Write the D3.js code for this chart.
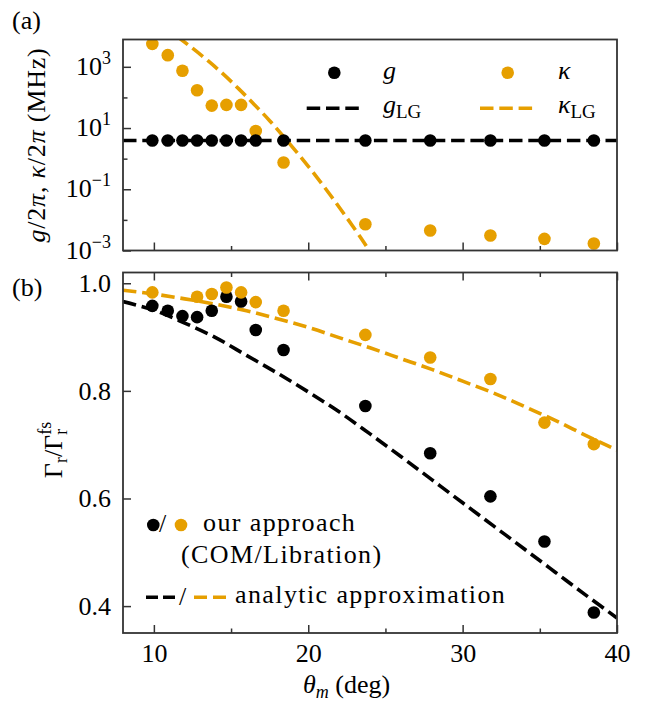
<!DOCTYPE html>
<html>
<head>
<meta charset="utf-8">
<script src="https://cdnjs.cloudflare.com/ajax/libs/d3/7.8.5/d3.min.js"></script>
<style>
  html, body { margin: 0; padding: 0; background: #fff; }
  svg { display: block; }
  text { font-family: "Liberation Serif", "Times New Roman", serif; fill: #000; }
  .wide { letter-spacing: 1.4px; }
</style>
</head>
<body>
<svg id="chart" width="663" height="705"></svg>
<script>
// computed points, angle in deg
const theta = [9.9, 10.9, 11.85, 12.8, 13.75, 14.7, 15.65, 16.6, 18.4, 23.7, 27.9, 31.8, 35.3, 38.5];
// (a) coupling and loss rate, MHz
const gMHz     = [3.9, 3.9, 3.9, 3.9, 3.9, 3.9, 3.9, 3.9, 3.9, 3.9, 3.9, 3.9, 3.9, 3.9];
const kappaMHz = [5600, 2400, 740, 172, 54, 57, 57, 8.0, 0.75, 0.0072, 0.0045, 0.0031, 0.0024, 0.0017];
// LG-beam estimates
const gLGTheta = [8, 40];
const gLGMHz   = [3.9, 3.9];
const kappaLGTheta = [11.5, 12.5, 13.5, 14.5, 15.5, 16.5, 17.5, 18.5, 19.5, 20.5, 21.5, 22.5, 23.5, 24.0];
const kappaLGMHz   = [9800, 4070, 1580, 575, 190, 59, 17.4, 4.6, 1.15, 0.27, 0.058, 0.0117, 0.0022, 0.00091];
// (b) Gamma_r / Gamma_r^fs
const gammaCOM = [0.958, 0.949, 0.939, 0.937, 0.949, 0.975, 0.966, 0.913, 0.876, 0.772, 0.684, 0.604, 0.520, 0.388];
const gammaLib = [0.983, null, null, 0.975, 0.980, 0.992, 0.983, 0.965, 0.949, 0.904, 0.862, 0.822, 0.741, 0.701];
const approxTheta = [8, 10, 12, 14, 16, 18, 20, 22, 24, 26, 28, 30, 32, 34, 36, 38, 40];
const approxCOM   = [0.966, 0.950, 0.926, 0.899, 0.866, 0.833, 0.798, 0.761, 0.720, 0.678, 0.635, 0.592, 0.549, 0.506, 0.463, 0.420, 0.378];
const approxLib   = [0.987, 0.980, 0.971, 0.961, 0.949, 0.934, 0.918, 0.899, 0.880, 0.860, 0.840, 0.818, 0.796, 0.771, 0.745, 0.717, 0.690];
// axes
const xDomain = [8, 40];
const xMajor = [10, 20, 30, 40];
const xMinor = [15, 25, 35];
const yADomain = [1e-3, 7800];
const yAMajorExp = [3, 1, -1, -3];
const yAMinor = [1e2, 1e0, 1e-2];
const yBDomain = [0.35, 1.02];
const yBMajor = [0.4, 0.6, 0.8, 1.0];

const BLACK = "#000", ORANGE = "#E69F00", AXIS = "#333";
const FS = 26;

const svg = d3.select("#chart");
const left = 123, right = 617;
const aTop = 39.5, aBot = 250.5, bTop = 272.5, bBot = 633;

const x = d3.scaleLinear().domain(xDomain).range([left, right]);
const yA = d3.scaleLog().domain(yADomain).range([aBot, aTop]);
const yB = d3.scaleLinear().domain(yBDomain).range([bBot, bTop]);

function clip(id, top, bot) {
  svg.append("clipPath").attr("id", id).append("rect")
    .attr("x", left).attr("y", top).attr("width", right - left).attr("height", bot - top);
}
clip("clipA", aTop, aBot);
clip("clipB", bTop, bBot);

// rich text helper: parts = [{t, it, sz, dy, dx}]
function rich(g, parts) {
  parts.forEach(p => {
    const s = g.append("tspan").text(p.t);
    if (p.it) s.attr("font-style", "italic");
    if (p.sz) s.attr("font-size", p.sz);
    if (p.dy) s.attr("dy", p.dy);
    if (p.dx) s.attr("dx", p.dx);
  });
  return g;
}

function ticks(axis, yPos, size, xPos) {
  const g = svg.append("g").attr("transform", `translate(${xPos || 0},${yPos || 0})`).call(axis);
  g.select(".domain").remove();
  g.selectAll(".tick line").attr("stroke", AXIS).attr("stroke-width", 1.5);
  g.selectAll("text").attr("font-size", FS).attr("fill", "#000");
  return g;
}

function line(gen, xs, ys, color, clipId) {
  svg.append("path")
    .datum(d3.zip(xs, ys))
    .attr("clip-path", `url(#${clipId})`)
    .attr("fill", "none")
    .attr("stroke", color)
    .attr("stroke-width", 3.6)
    .attr("stroke-dasharray", "13.5,5.8")
    .attr("d", gen);
}

function dots(xs, ys, ysc, color, clipId) {
  svg.append("g").attr("clip-path", `url(#${clipId})`)
    .selectAll("circle")
    .data(d3.zip(xs, ys).filter(d => d[1] != null))
    .join("circle")
    .attr("cx", d => x(d[0]))
    .attr("cy", d => ysc(d[1]))
    .attr("r", 6.3)
    .attr("fill", color);
}

// ---------- panel (a)
const lineA = d3.line().curve(d3.curveCatmullRom).x(d => x(d[0])).y(d => yA(d[1]));
line(lineA, gLGTheta, gLGMHz, BLACK, "clipA");
line(lineA, kappaLGTheta, kappaLGMHz, ORANGE, "clipA");
dots(theta, kappaMHz, yA, ORANGE, "clipA");
dots(theta, gMHz, yA, BLACK, "clipA");

ticks(d3.axisBottom(x).tickValues(xMajor).tickSize(-8).tickFormat(""), aBot);
ticks(d3.axisBottom(x).tickValues(xMinor).tickSize(-4.5).tickFormat(""), aBot);
ticks(d3.axisLeft(yA).tickValues(yAMajorExp.map(e => Math.pow(10, e))).tickSize(-8).tickFormat(""), 0, 0, left);
ticks(d3.axisLeft(yA).tickValues(yAMinor).tickSize(-4.5).tickFormat(""), 0, 0, left);

yAMajorExp.forEach(e => {
  const t = svg.append("text").attr("x", 111).attr("y", yA(Math.pow(10, e)) + 8)
    .attr("text-anchor", "end").attr("font-size", FS);
  rich(t, [{ t: "10" }, { t: (e < 0 ? "\u2212" : "") + Math.abs(e), sz: 18, dy: -11 }]);
});

svg.append("rect").attr("x", left).attr("y", aTop).attr("width", right - left).attr("height", aBot - aTop)
  .attr("fill", "none").attr("stroke", AXIS).attr("stroke-width", 1.8);

// legend (a)
function legDot(cx, cy, color) {
  svg.append("circle").attr("cx", cx).attr("cy", cy).attr("r", 6.3).attr("fill", color);
}
function legDash(x0, x1, cy, color, dash) {
  svg.append("line").attr("x1", x0).attr("x2", x1).attr("y1", cy).attr("y2", cy)
    .attr("stroke", color).attr("stroke-width", 3.6).attr("stroke-dasharray", dash || "13.5,5.8");
}
legDot(334.3, 72.7, BLACK);
legDot(507.7, 72.7, ORANGE);
legDash(306.7, 361.7, 108.3, BLACK);
legDash(480, 535, 108.3, ORANGE);
rich(svg.append("text").attr("x", 383).attr("y", 79).attr("font-size", FS), [{ t: "g", it: true }]);
rich(svg.append("text").attr("x", 558).attr("y", 79).attr("font-size", FS), [{ t: "\u03ba", it: true }]);
rich(svg.append("text").attr("x", 383).attr("y", 113).attr("font-size", FS),
  [{ t: "g", it: true }, { t: "LG", sz: 19, dy: 5 }]);
rich(svg.append("text").attr("x", 558).attr("y", 113).attr("font-size", FS),
  [{ t: "\u03ba", it: true }, { t: "LG", sz: 19, dy: 5 }]);

// y label (a)
rich(svg.append("text").attr("transform", "translate(45,145) rotate(-90)")
  .attr("text-anchor", "middle").attr("font-size", FS).attr("letter-spacing", "0.8px"),
  [{ t: "g", it: true }, { t: "/2" }, { t: "\u03c0", it: true }, { t: ", " },
   { t: "\u03ba", it: true }, { t: "/2" }, { t: "\u03c0", it: true }, { t: " (MHz)" }]);

// ---------- panel (b)
const lineB = d3.line().curve(d3.curveCatmullRom).x(d => x(d[0])).y(d => yB(d[1]));
line(lineB, approxTheta, approxCOM, BLACK, "clipB");
line(lineB, approxTheta, approxLib, ORANGE, "clipB");
dots(theta, gammaCOM, yB, BLACK, "clipB");
dots(theta, gammaLib, yB, ORANGE, "clipB");

ticks(d3.axisBottom(x).tickValues(xMajor).tickSize(-8).tickPadding(10.5).tickFormat(d3.format("d")), bBot);
ticks(d3.axisBottom(x).tickValues(xMinor).tickSize(-4.5).tickFormat(""), bBot);
ticks(d3.axisTop(x).tickValues(xMajor).tickSize(-8).tickFormat(""), bTop);
ticks(d3.axisTop(x).tickValues(xMinor).tickSize(-4.5).tickFormat(""), bTop);
ticks(d3.axisLeft(yB).tickValues(yBMajor).tickSize(-8).tickPadding(12).tickFormat(d3.format(".1f")), 0, 0, left);

svg.append("rect").attr("x", left).attr("y", bTop).attr("width", right - left).attr("height", bBot - bTop)
  .attr("fill", "none").attr("stroke", AXIS).attr("stroke-width", 1.8);

// legend (b)
legDot(153.3, 525, BLACK);
legDot(181, 525, ORANGE);
svg.append("text").attr("x", 159).attr("y", 532).attr("font-size", FS).text("/");
svg.append("text").attr("class", "wide").attr("x", 203).attr("y", 531).attr("font-size", FS).text("our approach");
svg.append("text").attr("class", "wide").attr("x", 181).attr("y", 563).attr("font-size", FS).text("(COM/Libration)");
legDash(146, 175, 597.3, BLACK, "12,5");
svg.append("text").attr("x", 179).attr("y", 605).attr("font-size", FS).text("/");
legDash(194, 226, 597.3, ORANGE, "13,6");
svg.append("text").attr("class", "wide").attr("x", 235).attr("y", 603).attr("font-size", FS).text("analytic approximation");

// y label (b)
rich(svg.append("text").attr("transform", "translate(62,450) rotate(-90)")
  .attr("text-anchor", "middle").attr("font-size", FS),
  [{ t: "\u0393" }, { t: "r", sz: 18, dy: 5 }, { t: "/\u0393", dy: -5 },
   { t: "r", sz: 18, dy: 5 }, { t: "fs", sz: 18, dx: -6, dy: -16 }]);

// x label
rich(svg.append("text").attr("x", 303).attr("y", 693).attr("font-size", FS),
  [{ t: "\u03b8", it: true }, { t: "m", it: true, sz: 18, dy: 5 }, { t: " (deg)", dy: -5 }]);

// panel letters
svg.append("text").attr("x", 12).attr("y", 29).attr("font-size", FS).text("(a)");
svg.append("text").attr("x", 12).attr("y", 296).attr("font-size", FS).text("(b)");
</script>
</body>
</html>
